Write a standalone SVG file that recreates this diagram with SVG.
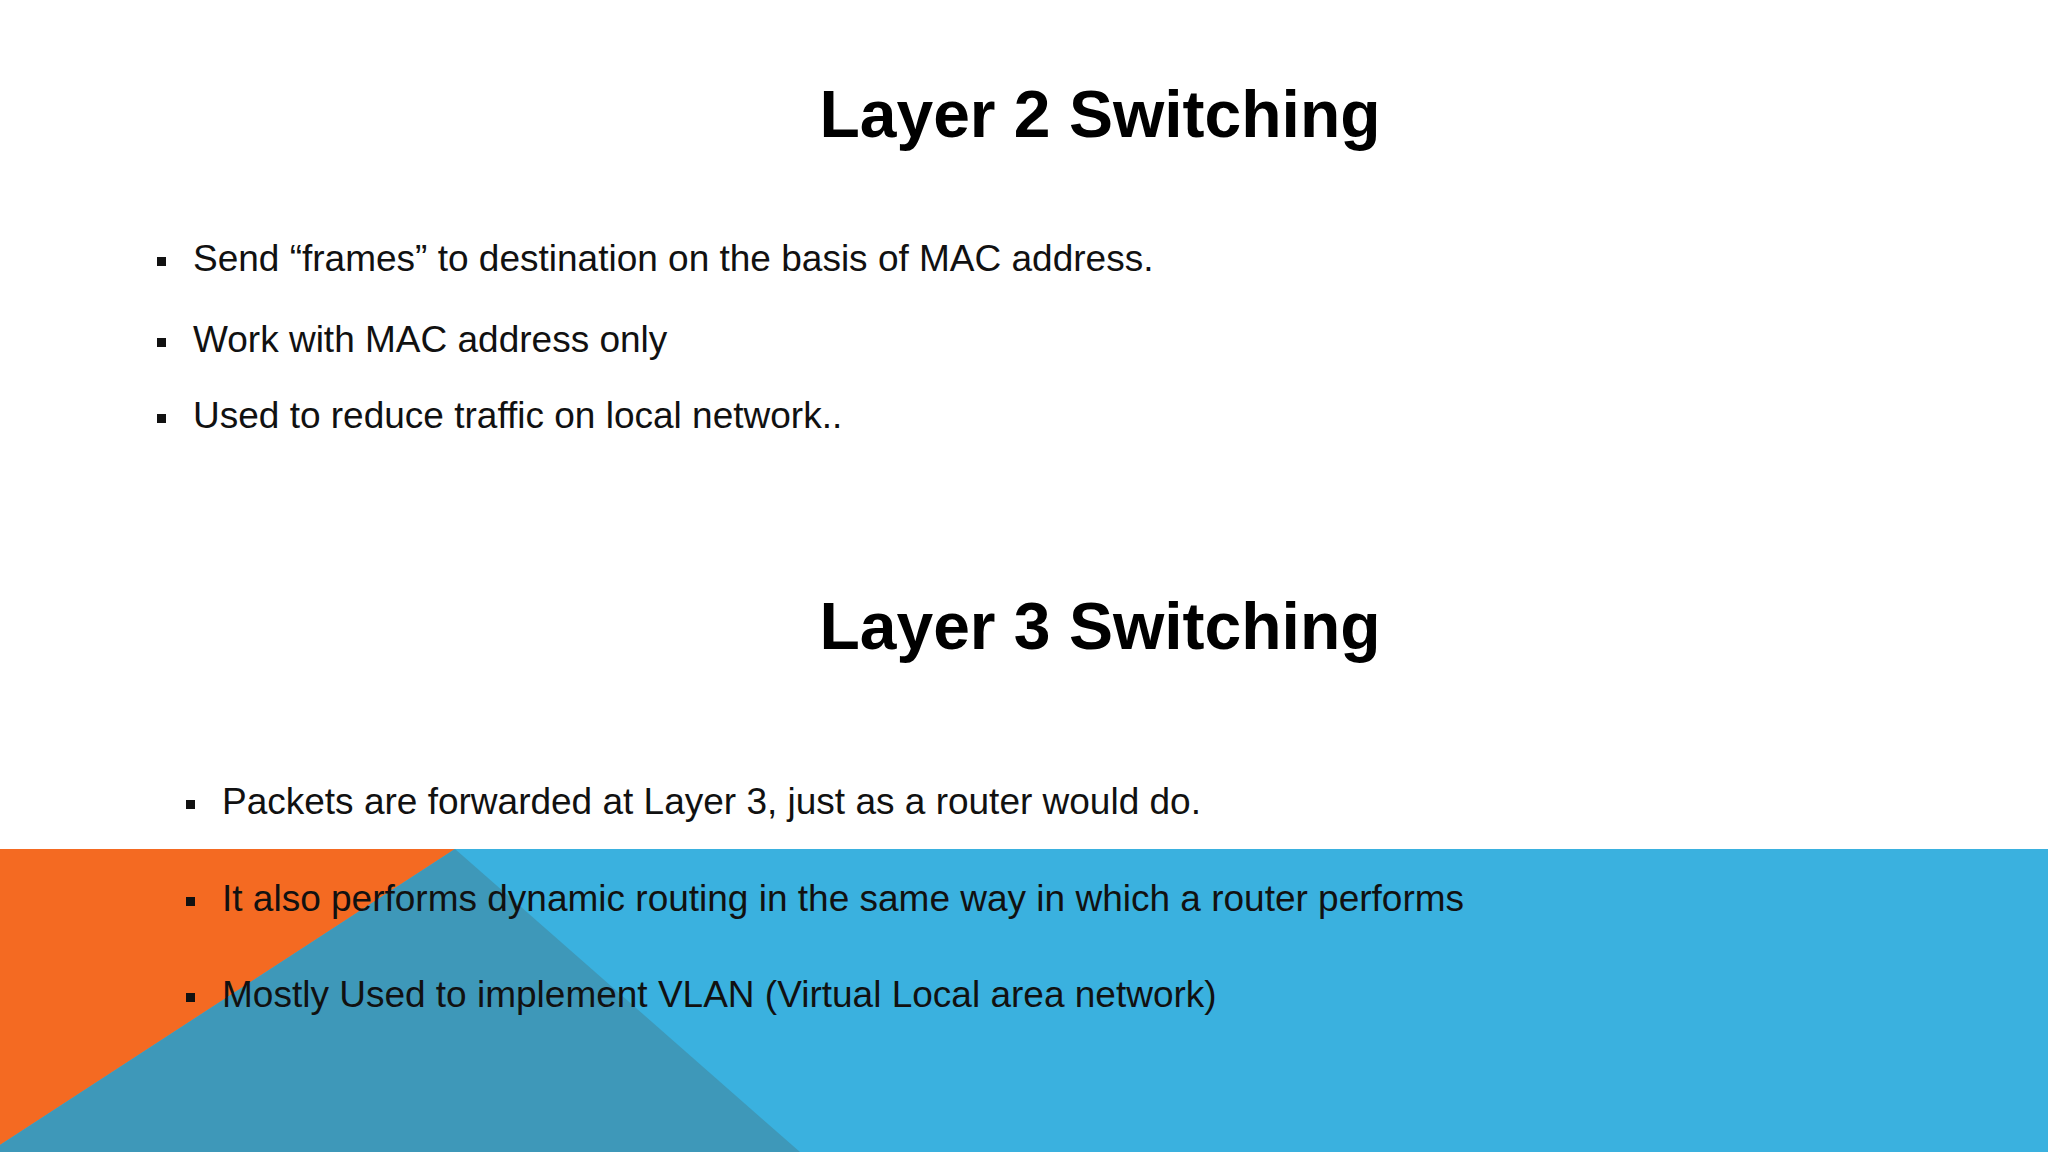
<svg xmlns="http://www.w3.org/2000/svg" width="2048" height="1152" viewBox="0 0 2048 1152">
<style>
.t{font-family:"Liberation Sans",Arial,sans-serif;font-weight:bold;font-size:66px;fill:#000;text-anchor:middle}
.b{font-family:"Liberation Sans",Arial,sans-serif;font-size:37px;fill:#111}
</style>
<rect width="2048" height="1152" fill="#fff"/>
<g id="band">
<rect x="0" y="849" width="2048" height="303" fill="#3AB1DF"/>
<polygon points="0,849 455,849 0,1145" fill="#F46A22"/>
<polygon points="455,849 800,1152 0,1152 0,1145" fill="#3E98B9"/>
</g>
<g id="layer2">
<text class="t" x="1100" y="137">Layer 2 Switching</text>
<rect x="157" y="257" width="9" height="9" fill="#111"/>
<text class="b" x="193" y="271">Send “frames” to destination on the basis of MAC address.</text>
<rect x="157" y="338" width="9" height="9" fill="#111"/>
<text class="b" x="193" y="352">Work with MAC address only</text>
<rect x="157" y="414" width="9" height="9" fill="#111"/>
<text class="b" x="193" y="428">Used to reduce traffic on local network..</text>
</g>
<g id="layer3">
<text class="t" x="1100" y="649">Layer 3 Switching</text>
<rect x="186" y="800" width="9" height="9" fill="#111"/>
<text class="b" x="222" y="814">Packets are forwarded at Layer 3, just as a router would do.</text>
<rect x="186" y="897" width="9" height="9" fill="#111"/>
<text class="b" x="222" y="911">It also performs dynamic routing in the same way in which a router performs</text>
<rect x="186" y="993" width="9" height="9" fill="#111"/>
<text class="b" x="222" y="1007">Mostly Used to implement VLAN (Virtual Local area network)</text>
</g>
</svg>
